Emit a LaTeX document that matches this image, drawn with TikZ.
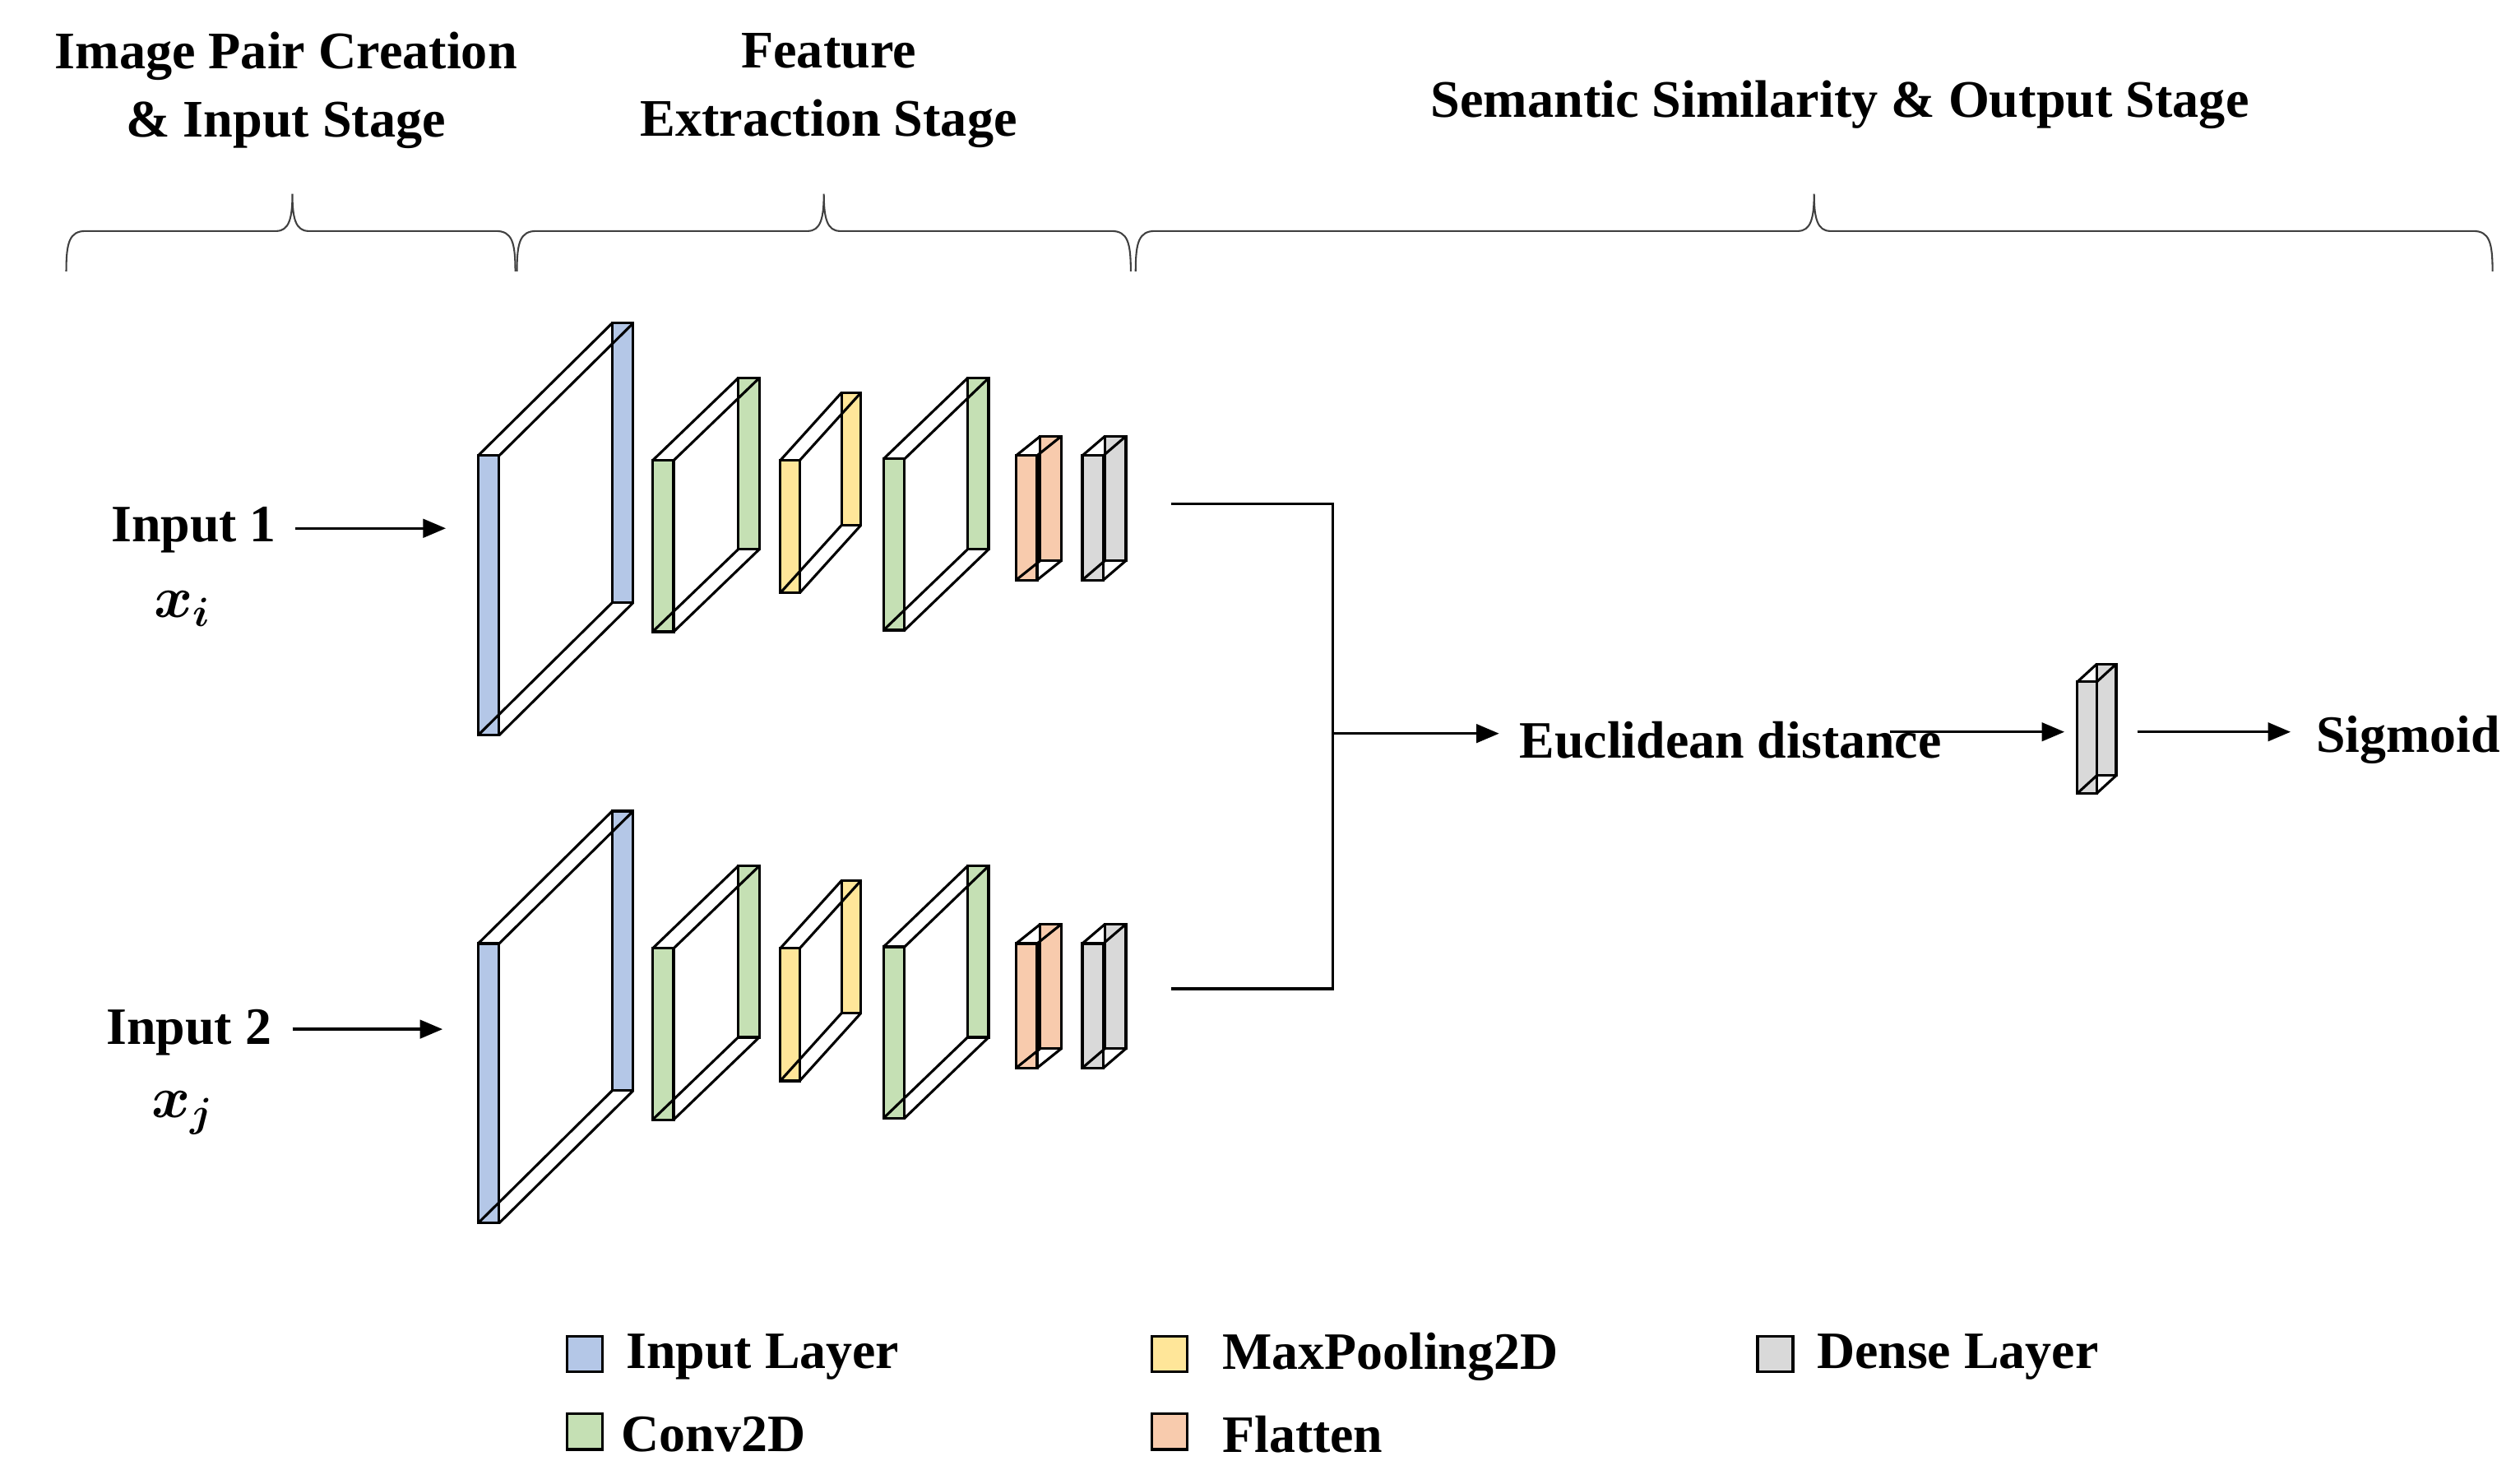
\documentclass[tikz,border=0pt]{standalone}
\usepackage{amsmath}
\usepackage{fontspec}
\setmainfont{Liberation Serif}
\usetikzlibrary{arrows.meta}
\definecolor{cin}{HTML}{B4C7E7}
\definecolor{ccv}{HTML}{C5E0B4}
\definecolor{cmp}{HTML}{FFE699}
\definecolor{cfl}{HTML}{F8CBAD}
\definecolor{cde}{HTML}{D9D9D9}
\newcommand\layerbox[7]{% x, ytop, ybot, dx, dy, color, width
  \draw[fill=#6] ({#1+#4},{#2+#5}) rectangle ({#1+#4+#7},{#3+#5});
  \draw[fill=#6] (#1,#2) rectangle ({#1+#7},#3);
  \draw (#1,#2)--({#1+#4},{#2+#5}) ({#1+#7},#2)--({#1+#7+#4},{#2+#5})
        (#1,#3)--({#1+#4},{#3+#5}) ({#1+#7},#3)--({#1+#7+#4},{#3+#5});}
\newcommand\branch[1]{%
  \layerbox{296}{282+#1}{455+#1}{83}{-82}{cin}{13}
  \layerbox{404}{285+#1}{391+#1}{53}{-51}{ccv}{13}
  \layerbox{483}{285+#1}{367+#1}{38}{-42}{cmp}{12}
  \layerbox{547}{284+#1}{390+#1}{52}{-50}{ccv}{13}
  \layerbox{629}{282+#1}{359+#1}{15}{-12}{cfl}{13}
  \layerbox{670}{282+#1}{359+#1}{14}{-12}{cde}{13}}
\tikzset{
  txt/.style={font=\fontsize{18.5}{21}\selectfont\bfseries, inner sep=0pt},
  mth/.style={font=\fontsize{21}{24}\selectfont\boldmath, inner sep=0pt},
  ttl/.style={font=\fontsize{18.6}{21}\selectfont\bfseries, inner sep=0pt, align=center},
  arr/.style={line width=1pt,-{Triangle[length=8pt,width=6.5pt]}},
  brc/.style={line width=0.6pt, draw=black!75},
  lg/.style={draw, line width=1pt, minimum size=0.44cm, inner sep=0pt}
}
\begin{document}
\begin{tikzpicture}[x=0.02cm,y=-0.02cm,line width=0.9pt]
\useasboundingbox (0,0) rectangle (1560,918);
% titles
\node[ttl] (t1) at (177,56) {Image Pair Creation\\[3pt]\& Input Stage};
\node[ttl] (t2) at (513,56) {Feature\\[3pt]Extraction Stage};
\node[ttl] (t3) at (1139,65) {Semantic Similarity \& Output Stage};
% braces
\foreach \a/\m/\b in {41/181/319, 320/510/700, 703/1123/1543}{
  \draw[brc] (\a,168) .. controls (\a,150) and (\a+2,143) .. (\a+12,143)
     -- (\m-10,143) .. controls (\m-2,143) and (\m,135) .. (\m,120)
     .. controls (\m,135) and (\m+2,143) .. (\m+10,143)
     -- (\b-12,143) .. controls (\b-2,143) and (\b,150) .. (\b,168);
}
% inputs
\node[txt] (in1) at (120,328) {Input 1};
\node[mth] (xi) at (113,377) {$x_i$};
\node[txt] (in2) at (117,639) {Input 2};
\node[mth] (xj) at (113,689) {$x_j$};
\coordinate (a1s) at (183,327); \coordinate (a1e) at (276,327);
\coordinate (a2s) at (181,637); \coordinate (a2e) at (274,637);
\draw[arr] (a1s) -- (a1e);
\draw[arr] (a2s) -- (a2e);
% branches
\branch{0}
\branch{302}
% merge
\coordinate (o1) at (725,312); \coordinate (o2) at (725,612);
\coordinate (j1) at (825,312); \coordinate (j2) at (825,612);
\coordinate (jm) at (825,454); \coordinate (je) at (928,454);
\draw (o1) -- (j1) -- (j2) -- (o2);
\draw[arr] (jm) -- (je);
\node[txt,anchor=west] (eu) at (940,458) {Euclidean distance};
\coordinate (d1s) at (1170,453); \coordinate (d1e) at (1278,453);
\draw[arr] (d1s) -- (d1e);
\layerbox{1286}{422}{491}{12}{-11}{cde}{12}
\coordinate (d2s) at (1323,453); \coordinate (d2e) at (1418,453);
\draw[arr] (d2s) -- (d2e);
\node[txt,anchor=west] (sg) at (1433,458) {Sigmoid};
% legend
\node[lg,fill=cin] (l1) at (362,838) {};
\node[txt,anchor=west] at (387,840) {Input Layer};
\node[lg,fill=ccv] (l2) at (362,886) {};
\node[txt,anchor=west] at (384,888) {Conv2D};
\node[lg,fill=cmp] (l3) at (724,838) {};
\node[txt,anchor=west] at (756,840) {MaxPooling2D};
\node[lg,fill=cfl] (l4) at (724,886) {};
\node[txt,anchor=west] at (756,888) {Flatten};
\node[lg,fill=cde] (l5) at (1099,838) {};
\node[txt,anchor=west] at (1124,840) {Dense Layer};
\end{tikzpicture}
\end{document}
